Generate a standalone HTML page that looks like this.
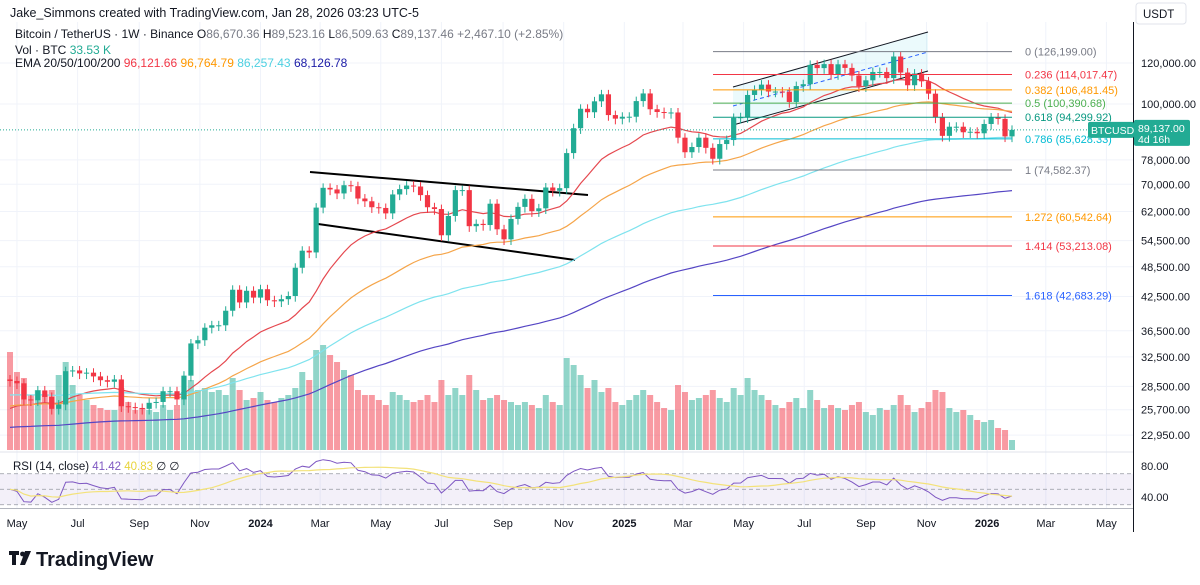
<!DOCTYPE html>
<html><head><meta charset="utf-8">
<style>
body{margin:0;background:#fff;width:1200px;height:585px;overflow:hidden;font-family:"Liberation Sans",sans-serif}
svg{display:block}
text{font-family:"Liberation Sans",sans-serif}
</style></head>
<body>
<svg id="c" width="1200" height="585" viewBox="0 0 1200 585">
<rect x="0" y="0" width="1200" height="585" fill="#ffffff"/>
<text x="10" y="17" font-size="12.5" fill="#131722">Jake_Simmons created with TradingView.com, Jan 28, 2026 03:23 UTC-5</text>
<g id="grid"></g>
<g id="vol"></g>
<g id="rsiPane"></g>
<g id="draw"></g>
<g id="ema"></g>
<g id="candles"></g>
<g id="fib"></g>
<g id="axis"></g>
<g id="taxis"></g>
<g font-size="12">
<text x="15" y="38" fill="#131722">Bitcoin / TetherUS · 1W · Binance <tspan>O</tspan><tspan fill="#787b86">86,670.36</tspan> H<tspan fill="#787b86">89,523.16</tspan> L<tspan fill="#787b86">86,509.63</tspan> C<tspan fill="#787b86">89,137.46</tspan> <tspan fill="#787b86">+2,467.10 (+2.85%)</tspan></text>
<text x="15" y="54" fill="#131722">Vol · BTC <tspan fill="#22ab94">33.53 K</tspan></text>
<text x="15" y="67" fill="#131722">EMA 20/50/100/200 <tspan fill="#f23645">96,121.66</tspan> <tspan fill="#ff9800">96,764.79</tspan> <tspan fill="#4dd0e1">86,257.43</tspan> <tspan fill="#1a1aa6">68,126.78</tspan></text>
<text x="13" y="470" font-size="11.5" fill="#131722">RSI (14, close) <tspan fill="#7e57c2">41.42</tspan> <tspan fill="#e8d33a">40.83</tspan> <tspan fill="#131722">∅ ∅</tspan></text>
</g>
<g>
<rect x="9" y="551" width="10" height="4" fill="#131722"/><rect x="12" y="551" width="4" height="14" fill="#131722"/><circle cx="22.5" cy="554" r="2.4" fill="#131722"/><polygon points="25,551 31,551 25,565 20,565" fill="#131722"/>
<text x="36" y="566" font-size="20" font-weight="bold" fill="#131722">TradingView</text>
</g>
</svg>
<script>
const closes=[29200,28900,26900,26800,28000,27200,25800,26300,30500,30600,
30200,30300,29800,29300,29100,29400,26100,26000,25900,25800,
26500,26600,27900,27900,26900,29900,34500,35000,37000,37400,
37400,39900,43800,41400,43600,42300,43900,41800,41600,42000,
42600,48300,52100,51700,63100,68900,68400,67200,69700,69400,
65700,64900,63200,63000,61500,66900,68500,69600,69300,66700,
63200,62700,55800,60800,68200,68200,58100,58700,58400,64200,
57300,54800,60000,63300,65600,62100,62900,69000,68000,68800,
80400,89800,97900,96400,101200,104400,95200,93700,94500,94500,
101300,104800,97700,96500,96100,96300,86100,80700,82600,86100,
82300,78400,83700,85200,94000,94300,104100,106500,109000,105700,
105700,105600,100900,108300,109200,119000,117300,119400,114200,119300,
117400,113500,108200,111100,115300,115300,112200,123500,115000,108700,
114500,110600,104700,94200,86800,90400,90400,88200,88400,87800,
91500,94200,93600,86600,89137];
const volumes=[98,78,72,55,60,55,60,75,88,65,
55,50,45,42,40,40,62,48,40,42,
40,38,45,40,45,58,70,60,62,58,
60,55,72,60,50,52,58,50,48,52,
55,62,78,70,100,105,95,88,80,75,
60,55,55,50,45,58,55,50,48,50,
55,48,70,55,62,55,75,60,50,52,
55,50,48,45,48,45,42,55,48,45,
92,85,75,62,70,58,62,48,45,50,
55,60,55,48,42,40,65,58,50,52,
55,60,52,48,62,55,72,60,55,50,
45,42,48,52,42,60,50,42,45,42,
40,45,48,38,35,42,40,45,55,45,
38,42,48,60,58,42,38,40,35,30,
28,30,22,20,10];
const firstOpen=29400;
const priceTicks=[120000,100000,78000,70000,62000,54500,48500,42500,36500,32500,28500,25700,22950];
const fibRatios=["0","0.236","0.382","0.5","0.618","0.786","1","1.272","1.414","1.618"];
const fibPrices=[126199.00,114017.47,106481.45,100390.68,94299.92,85628.33,74582.37,60542.64,53213.08,42683.29];
const fibColors=["#787b86","#f23645","#ff9800","#4caf50","#089981","#00bcd4","#787b86","#ff9800","#f23645","#2962ff"];
const timeTicks=[["2023-05-01","May"],["2023-07-01","Jul"],["2023-09-01","Sep"],["2023-11-01","Nov"],["2024-01-01","2024"],["2024-03-01","Mar"],["2024-05-01","May"],["2024-07-01","Jul"],["2024-09-01","Sep"],["2024-11-01","Nov"],["2025-01-01","2025"],["2025-03-01","Mar"],["2025-05-01","May"],["2025-07-01","Jul"],["2025-09-01","Sep"],["2025-11-01","Nov"],["2026-01-01","2026"],["2026-03-01","Mar"],["2026-05-01","May"]];
const emaSeeds=[25500,26000,27400,23700];
const emaPeriods=[20,50,100,200];
const emaColors=["#e5484f","#f5a54a","#7fe3ee","#5546c4"];

const NS="http://www.w3.org/2000/svg";
const N=closes.length, X0=10, X1=1012, STEP=(X1-X0)/(N-1);
const xi=i=>X0+i*STEP;
const startDate=Date.UTC(2023,3,24);
const xd=s=>{const d=new Date(s+"T00:00:00Z").getTime();return X0+(d-startDate)/(7*864e5)*STEP;};
const yp=p=>104-225*Math.log(p/100000);
const yr=v=>497-(v-40)*0.775;
function mk(tag,attrs,parent){const e=document.createElementNS(NS,tag);for(const k in attrs)e.setAttribute(k,attrs[k]);parent.appendChild(e);return e;}
const $=id=>document.getElementById(id);

// grid
const grid=$('grid');
priceTicks.forEach(p=>{const l=mk('line',{x1:0,x2:1133,y1:yp(p),y2:yp(p),stroke:'#f0f3fa'},grid);

});
timeTicks.forEach(t=>{const x=xd(t[0]);const l=mk('line',{x1:x,x2:x,y1:22,y2:508,stroke:'#f0f3fa'},grid);

});
mk('line',{x1:0,x2:1133,y1:452,y2:452,stroke:'#e0e3eb'},grid);
mk('line',{x1:1133.5,x2:1133.5,y1:22,y2:532,stroke:'#131722'},grid);
mk('line',{x1:0,x2:1133,y1:508.5,y2:508.5,stroke:'#b2b5be'},grid);

// candles
const opens=closes.map((c,i)=>i?closes[i-1]:firstOpen);
const cg=$('candles'), vg=$('vol');
closes.forEach((c,i)=>{
 const o=opens[i],up=c>=o,col=up?'#22ab94':'#f23645';
 const hi=Math.max(o,c)*1.02,lo=Math.min(o,c)*0.975,x=xi(i);
 const w=mk('line',{x1:x,x2:x,y1:yp(hi),y2:yp(lo),stroke:col,'stroke-width':1},cg);
 
 
 const yt=yp(Math.max(o,c)),yb=yp(Math.min(o,c));
 const b=mk('rect',{x:x-2.6,y:yt,width:5.2,height:Math.max(1,yb-yt),fill:col},cg);
 
 
 const h=volumes[i];
 const v=mk('rect',{x:x-3,y:450-h,width:6,height:h,fill:up?'rgba(34,171,148,0.5)':'rgba(242,54,69,0.5)'},vg);
 
 
});

// EMAs
const eg=$('ema');
emaPeriods.forEach((p,k)=>{let e=emaSeeds[k];const a=2/(p+1);const pts=[];
 closes.forEach((c,i)=>{e=a*c+(1-a)*e;pts.push(xi(i).toFixed(1)+','+yp(e).toFixed(1));});
 const l=mk('polyline',{points:pts.join(' '),fill:'none',stroke:emaColors[k],'stroke-width':1.2},eg);
 
 });

// current price line
const cp=closes[N-1], cy=yp(cp);
mk('line',{x1:0,x2:1133,y1:cy,y2:cy,stroke:'#22ab94','stroke-dasharray':'1 2','stroke-width':1},eg);

// drawings
const dg=$('draw');
const fill=mk('polygon',{points:'733,87 928,32 928,71 733,125',fill:'rgba(0,188,212,0.08)'},dg);


[[310,172,588,195],[318,224,575,260]].forEach(s=>{const l=mk('line',{x1:s[0],y1:s[1],x2:s[2],y2:s[3],stroke:'#000','stroke-width':2},dg);

});
[[733,87,928,32],[733,125,928,71]].forEach(s=>{const l=mk('line',{x1:s[0],y1:s[1],x2:s[2],y2:s[3],stroke:'#131722','stroke-width':1},dg);

});
mk('line',{x1:733,y1:106,x2:928,y2:52,stroke:'#2962ff','stroke-width':1,'stroke-dasharray':'4 3'},dg);

// fib
const fg=$('fib');
fibPrices.forEach((p,i)=>{const y=yp(p);
 const l=mk('line',{x1:713,x2:1012,y1:y,y2:y,stroke:fibColors[i],'stroke-width':1},fg);
 
 
 const t=mk('text',{x:1025,y:y+4,'font-size':11,fill:fibColors[i]},fg);
 t.textContent=fibRatios[i]+' ('+p.toLocaleString('en-US',{minimumFractionDigits:2,maximumFractionDigits:2})+')';
 
 });

// price axis
const ag=$('axis');
mk('rect',{x:1136,y:3,width:50,height:21,rx:3,fill:'#fff',stroke:'#e0e3eb'},ag);
const ut=mk('text',{x:1143,y:18,'font-size':11.5,fill:'#131722'},ag);ut.textContent='USDT';
priceTicks.forEach(p=>{const t=mk('text',{x:1141,y:yp(p)+4,'font-size':11,fill:'#131722'},ag);
 t.textContent=p.toLocaleString('en-US',{minimumFractionDigits:2});
 
 });
mk('rect',{x:1088,y:cy-8,width:46,height:16,rx:2,fill:'#22ab94'},ag);
const bt=mk('text',{x:1091,y:cy+4,'font-size':10.5,fill:'#fff'},ag);bt.textContent='BTCUSDT';
mk('rect',{x:1134,y:cy-10,width:56,height:26,rx:2,fill:'#22ab94'},ag);
const pt=mk('text',{x:1138,y:cy+2,'font-size':10.5,fill:'#fff'},ag);pt.textContent=cp.toLocaleString('en-US',{minimumFractionDigits:2});
const tt=mk('text',{x:1138,y:cy+13,'font-size':10.5,fill:'#fff'},ag);tt.textContent='4d 16h';

// RSI
const rg=$('rsiPane');
mk('rect',{x:0,y:yr(70),width:1133,height:yr(30)-yr(70),fill:'rgba(126,87,194,0.09)'},rg);
[70,50,30].forEach(v=>mk('line',{x1:0,x2:1133,y1:yr(v),y2:yr(v),stroke:'#9598a1','stroke-dasharray':'4 3','stroke-width':0.8},rg));
[80,40].forEach(v=>{const t=mk('text',{x:1141,y:yr(v)+4,'font-size':11,fill:'#131722'},rg);t.textContent=v.toFixed(2);});
let ag2=0,al=0;const rsi=[];
closes.forEach((c,i)=>{const ch=i?c-closes[i-1]:c-firstOpen;const g=Math.max(ch,0),l=Math.max(-ch,0);
 if(i===0){ag2=g||200;al=l||200;}else{ag2=(ag2*13+g)/14;al=(al*13+l)/14;}
 rsi.push(al===0?100:100-100/(1+ag2/al));});
const ma=rsi.map((v,i)=>{const s=rsi.slice(Math.max(0,i-13),i+1);return s.reduce((a,b)=>a+b,0)/s.length;});
const rl=mk('polyline',{points:rsi.map((v,i)=>xi(i).toFixed(1)+','+yr(v).toFixed(1)).join(' '),fill:'none',stroke:'#7e57c2','stroke-width':1},rg);


const ml=mk('polyline',{points:ma.map((v,i)=>xi(i).toFixed(1)+','+yr(v).toFixed(1)).join(' '),fill:'none',stroke:'#f3e27a','stroke-width':1.2},rg);



// time axis
const tg=$('taxis');
timeTicks.forEach(t=>{const e=mk('text',{x:xd(t[0]),y:527,'font-size':11,fill:'#131722','text-anchor':'middle','font-weight':/^\d/.test(t[1])?'bold':'normal'},tg);
 e.textContent=t[1];
 
 });
</script>
</body></html>
